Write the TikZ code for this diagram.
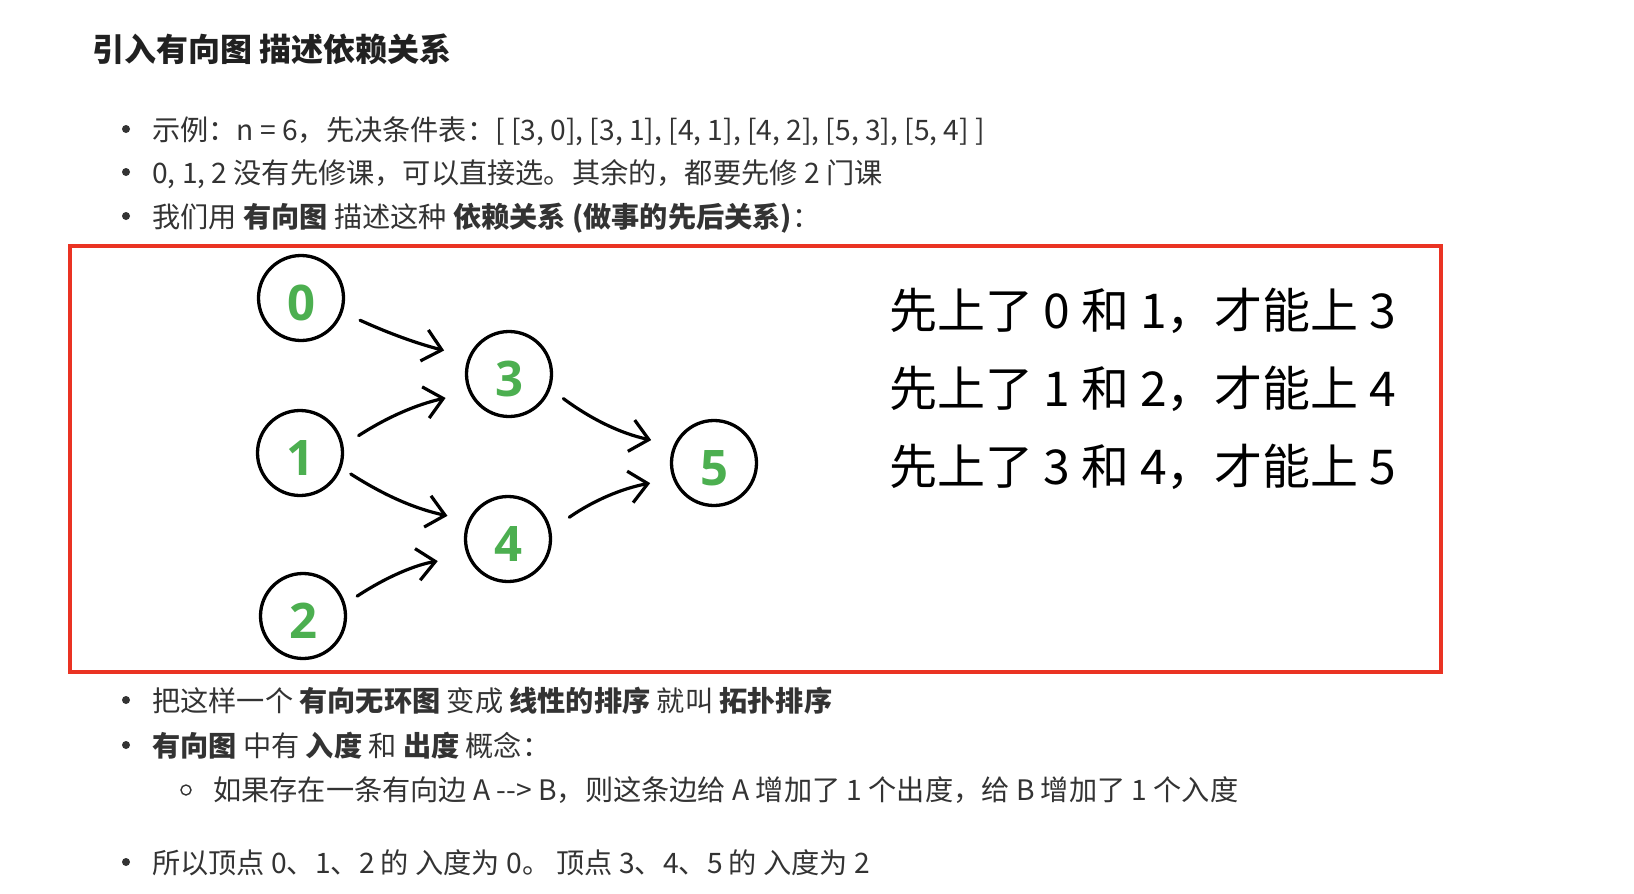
\documentclass[tikz,border=0pt]{standalone}
\usepackage{fontspec}
\setmainfont{Noto Sans CJK SC}
\newfontfamily\numfont{Open Sans}
\usetikzlibrary{arrows.meta}
\definecolor{cRed}{RGB}{234,51,35}
\definecolor{cGreen}{RGB}{76,175,80}
\definecolor{cText}{RGB}{51,51,51}
\newcommand\bodysize{\fontsize{28.2}{32}\selectfont}
\newcommand\titlesize{\fontsize{32}{36}\selectfont}
\newcommand\notesize{\fontsize{48}{56}\selectfont}

\begin{document}
\begin{tikzpicture}[x=1pt, y=-1pt,
    course/.style={circle, draw, line width=3.3pt, minimum size=85pt, inner sep=0pt,
      font=\numfont\bfseries\fontsize{49}{49}\selectfont, text=cGreen, text height=45pt, text depth=0pt},
    dep/.style={-{Straight Barb[length=18pt, width=32pt]}, line width=3.2pt, line cap=round, line join=round},
    item/.style={anchor=base west, inner sep=0pt, text=cText, font=\bodysize},
    dot/.style={circle, fill=cText, minimum size=8pt, inner sep=0pt},
    ring/.style={circle, draw=cText, line width=1.4pt, minimum size=10pt, inner sep=0pt},
    note/.style={anchor=base west, inner sep=0pt, font=\notesize}]
    \useasboundingbox[fill=white] (0,0) rectangle (1634,894);

    % heading and top list
    \node[anchor=base west, inner sep=0pt, text=black!87, font=\titlesize\bfseries] (title) at (92,61) {引入有向图 描述依赖关系};
    \node[dot] (d1) at (126,129) {};
    \node[item] (l1) at (152,140) {示例：n = 6，先决条件表：[ [3, 0], [3, 1], [4, 1], [4, 2], [5, 3], [5, 4] ]};
    \node[dot] (d2) at (126,172) {};
    \node[item] (l2) at (152,183) {0, 1, 2 没有先修课，可以直接选。其余的，都要先修 2 门课};
    \node[dot] (d3) at (126,216) {};
    \node[item] (l3) at (152,227) {我们用 \textbf{有向图} 描述这种 \textbf{依赖关系} \textbf{(做事的先后关系)}：};

    % framed graph
    \draw[cRed, line width=3.6pt] (70,246) rectangle (1441,672);
    \node[course] (c0) at (301,298) {0};
    \node[course] (c1) at (300,453) {1};
    \node[course] (c2) at (303,616) {2};
    \node[course] (c3) at (509,374) {3};
    \node[course] (c4) at (508,539) {4};
    \node[course] (c5) at (714,463) {5};

    \draw[dep, shorten <=19pt, shorten >=25pt] (c0.-19) to[bend right=5] (c3.157);
    \draw[dep, shorten <=18pt, shorten >=24pt] (c1.10) to[bend left=10] (c3.-155);
    \draw[dep, shorten <=11pt, shorten >=21pt] (c1.-20) to[bend right=10] (c4.155);
    \draw[dep, shorten <=14pt, shorten >=30pt] (c2.16) to[bend left=12] (c4.-157);
    \draw[dep, shorten <=16pt, shorten >=23pt] (c3.-20) to[bend right=12] (c5.156);
    \draw[dep, shorten <=22pt, shorten >=23pt] (c4.12) to[bend left=12] (c5.-159);

    \node[note] (n1) at (889,328) {先上了 0 和 1，才能上 3};
    \node[note] (n2) at (889,406) {先上了 1 和 2，才能上 4};
    \node[note] (n3) at (889,484) {先上了 3 和 4，才能上 5};

    % lower list
    \node[dot] (d4) at (126,700) {};
    \node[item] (l4) at (152,711) {把这样一个 \textbf{有向无环图} 变成 \textbf{线性的排序} 就叫 \textbf{拓扑排序}};
    \node[dot] (d5) at (126,745) {};
    \node[item] (l5) at (152,756) {\textbf{有向图} 中有 \textbf{入度} 和 \textbf{出度} 概念：};
    \node[ring] (r6) at (186,790) {};
    \node[item] (l6) at (213,800) {如果存在一条有向边 A -{}-> B，则这条边给 A 增加了 1 个出度，给 B 增加了 1 个入度};
    \node[dot] (d7) at (126,862) {};
    \node[item] (l7) at (152,873) {所以顶点 0、1、2 的 入度为 0。 顶点 3、4、5 的 入度为 2};
\end{tikzpicture}
\end{document}
